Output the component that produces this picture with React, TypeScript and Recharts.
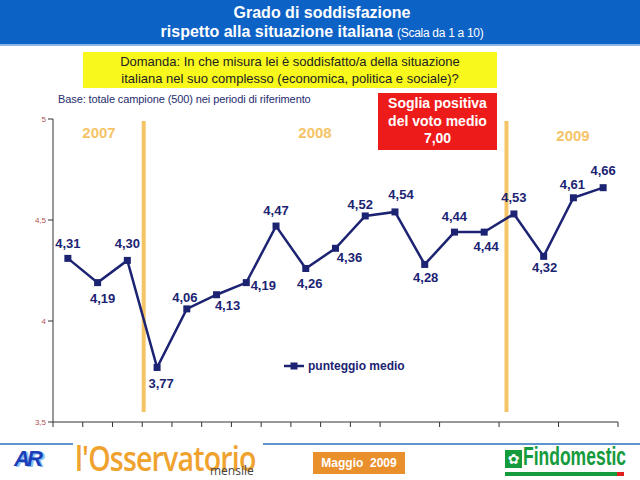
import { Legend, Line, LineChart, ReferenceLine, XAxis, YAxis } from "recharts";

// punteggio medio per rilevazione (2007 → 2009)
const scores = [4.31, 4.19, 4.3, 3.77, 4.06, 4.13, 4.19, 4.47, 4.26, 4.36, 4.52, 4.54, 4.28, 4.44, 4.44, 4.53, 4.32, 4.61, 4.66];
const yTicks = [3.5, 4, 4.5, 5];
const years = ["2007", "2008", "2009"];
// year boundaries, in wave-index units
const yearBreaks = [2.55, 14.75];

// where each value label sits relative to its point [dx, dy]
const labelOffsets: [number, number][] = [
  [0, -15], [5, 16], [0, -17], [4, 16], [-2, -11], [11, 11], [17, 3], [0, -16], [4, 15], [14, 9],
  [-5, -11], [6, -17], [1, 13], [0, -16], [2, 14], [0, -16], [1, 11], [-1, -13], [0, -17],
];

const NAVY = "#1b2372";
const ORANGE = "#f5c466";
const FONT = "'Liberation Sans', Arial, sans-serif";

const data = scores.map((score, i) => ({ wave: i, score }));
const xTicks = [...scores.map((_, i) => i - 0.5), scores.length - 0.5];

const fmt = (v: number) => v.toFixed(2).replace(".", ",");

function ScoreDot(props: any) {
  const { cx, cy, index, payload } = props;
  const [dx, dy] = labelOffsets[index] ?? [0, -15];
  return (
    <g key={`dot-${index}`}>
      <rect x={cx - 3.5} y={cy - 3.5} width={7} height={7} fill={NAVY} />
      <text
        x={cx + dx}
        y={cy + dy}
        textAnchor="middle"
        dominantBaseline="central"
        fontFamily={FONT}
        fontWeight="bold"
        fontSize={13}
        fill={NAVY}
      >
        {fmt(payload.score)}
      </text>
    </g>
  );
}

function LegendBox() {
  return (
    <div style={{ display: "flex", alignItems: "center", fontFamily: FONT }}>
      <svg width={20} height={10}>
        <line x1={0} y1={5} x2={20} y2={5} stroke={NAVY} strokeWidth={2.5} />
        <rect x={6.5} y={1.5} width={7} height={7} fill={NAVY} />
      </svg>
      <span style={{ marginLeft: 4, fontSize: 12, fontWeight: "bold", color: NAVY, whiteSpace: "nowrap" }}>
        punteggio medio
      </span>
    </div>
  );
}

const abs = (s: React.CSSProperties): React.CSSProperties => ({ position: "absolute", ...s });

export default function App() {
  return (
    <div style={{ position: "absolute", left: 0, top: 0, width: 640, height: 480, background: "#fff", overflow: "hidden", fontFamily: FONT }}>
      <LineChart width={640} height={480} data={data} margin={{ top: 119, right: 22, bottom: 50, left: 0 }}>
        <XAxis
          dataKey="wave"
          type="number"
          domain={[-0.5, scores.length - 0.5]}
          ticks={xTicks}
          height={8}
          tick={() => <g />}
          tickSize={5}
          axisLine={{ stroke: "#333" }}
          tickLine={{ stroke: "#333" }}
          allowDataOverflow
        />
        <YAxis
          domain={[3.5, 5]}
          ticks={yTicks}
          width={53}
          tickSize={5}
          tickFormatter={(v: number) => String(v).replace(".", ",")}
          tick={{ fontSize: 8, fill: "#b05252", fontFamily: FONT }}
          axisLine={{ stroke: "#333" }}
          tickLine={{ stroke: "#333" }}
        />
        {yearBreaks.map((x) => (
          <ReferenceLine
            key={x}
            segment={[{ x, y: 4.99 }, { x, y: 3.55 }]}
            stroke={ORANGE}
            strokeWidth={4}
          />
        ))}
        <Line
          dataKey="score"
          stroke={NAVY}
          strokeWidth={2.5}
          dot={ScoreDot}
          activeDot={false}
          isAnimationActive={false}
        />
        <Legend
          layout="horizontal"
          verticalAlign="middle"
          align="center"
          content={() => <LegendBox />}
          wrapperStyle={{ left: 284, top: 359, width: 140 }}
        />
      </LineChart>

      {/* header */}
      <div style={abs({ left: 0, top: 0, width: 640, height: 44, background: "#0d62c6", borderBottom: "2px solid #8db6e6" })} />
      <div style={abs({ left: 0, top: 3, width: 644, textAlign: "center", color: "#fff", fontWeight: "bold", fontSize: 16, lineHeight: "19px" })}>
        Grado di soddisfazione
        <br />
        rispetto alla situazione italiana{" "}
        <span style={{ fontWeight: "normal", fontSize: 12, letterSpacing: -0.3 }}>(Scala da 1 a 10)</span>
      </div>

      <div
        style={abs({
          left: 83,
          top: 52,
          width: 414,
          height: 36,
          background: "#f8f81c",
          color: "#222",
          fontSize: 13,
          lineHeight: "17px",
          textAlign: "center",
          paddingTop: 1,
          boxSizing: "border-box",
        })}
      >
        Domanda: In che misura lei è soddisfatto/a della situazione
        <br />
        italiana nel suo complesso (economica, politica e sociale)?
      </div>

      <div style={abs({ left: 58, top: 93, fontSize: 11, color: "#1f2d6e", letterSpacing: -0.1, whiteSpace: "nowrap" })}>
        Base: totale campione (500) nei periodi di riferimento
      </div>

      <div
        style={abs({
          left: 378,
          top: 93,
          width: 119,
          height: 57,
          background: "#ee1b1b",
          color: "#fff",
          fontWeight: "bold",
          fontSize: 14,
          lineHeight: "17.5px",
          textAlign: "center",
          paddingTop: 2,
          boxSizing: "border-box",
        })}
      >
        Soglia positiva
        <br />
        del voto medio
        <br />
        7,00
      </div>

      {years.map((y, i) => (
        <div
          key={y}
          style={abs({
            left: [99, 315, 573][i] - 30,
            top: [124, 124, 127][i],
            width: 60,
            textAlign: "center",
            color: ORANGE,
            fontWeight: "bold",
            fontSize: 15,
          })}
        >
          {y}
        </div>
      ))}

      {/* footer */}
      <div style={abs({ left: 0, top: 443, width: 73, height: 1.5, background: "#5f95cf" })} />
      <div style={abs({ left: 263, top: 443, width: 377, height: 1.5, background: "#5f95cf" })} />
      <div style={abs({ left: 14, top: 446, fontSize: 22, fontWeight: "bold", fontStyle: "italic", color: "#1a3fb8", letterSpacing: -3, textShadow: "2px 1px 0 #8fc0f0" })}>
        AR
      </div>
      <div
        style={abs({
          left: 75,
          top: 440,
          fontSize: 34,
          lineHeight: "36px",
          fontWeight: 600,
          color: "#f0a22e",
          fontFamily: "'Open Sans', sans-serif",
          letterSpacing: -1,
          whiteSpace: "nowrap",
          transform: "scaleX(0.84)",
          transformOrigin: "left top",
        })}
      >
        l'Osservatorio
      </div>
      <div style={abs({ left: 210, top: 464, fontSize: 12, lineHeight: "14px", color: "#444", fontFamily: "'Open Sans', sans-serif" })}>mensile</div>
      <div
        style={abs({
          left: 313,
          top: 452,
          width: 92,
          height: 22,
          background: "#e98f2c",
          color: "#fff",
          fontWeight: "bold",
          fontSize: 12,
          lineHeight: "22px",
          textAlign: "center",
        })}
      >
        Maggio&nbsp; 2009
      </div>
      <div style={abs({ left: 505, top: 450, width: 17, height: 18, background: "#159a3c", color: "#fff", fontSize: 14, lineHeight: "18px", textAlign: "center", fontFamily: "'DejaVu Sans', sans-serif" })}>
        ✿
      </div>
      <div
        style={abs({
          left: 523,
          top: 442,
          fontSize: 25,
          fontWeight: "bold",
          color: "#159a3c",
          whiteSpace: "nowrap",
          transform: "scaleX(0.7)",
          transformOrigin: "left top",
        })}
      >
        Findomestic
      </div>
      <div style={abs({ left: 505, top: 472, width: 112, height: 4, background: "#159a3c" })} />
      <div style={abs({ left: 617, top: 472, width: 7, height: 4, background: "#e02020" })} />
    </div>
  );
}
